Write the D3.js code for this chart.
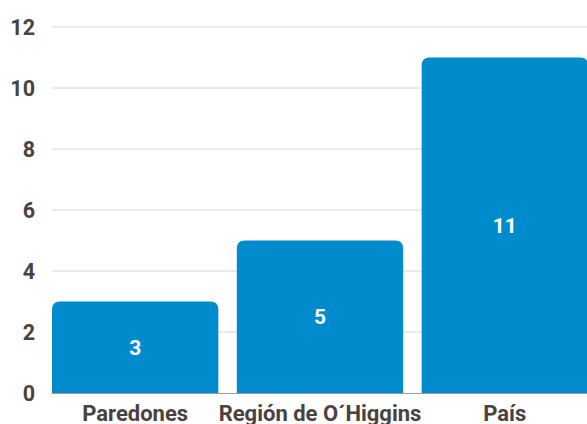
<!DOCTYPE html>
<html>
<head>
<meta charset="utf-8">
<script src="https://cdn.jsdelivr.net/npm/d3@7"></script>
<style>
  body { margin: 0; background: #fff; }
  text { font-family: Roboto, sans-serif; font-weight: 700; }
</style>
</head>
<body>
<div id="chart"><svg width="587" height="424"></svg></div>
<script>
const categories = ["Paredones", "Región de O´Higgins", "País"];
const values = [3, 5, 11];
const yTicks = [0, 2, 4, 6, 8, 10, 12];

const width = 587, height = 424;
const margin = {top: 27, right: -1, bottom: 31, left: 52};
const textColor = "#4a4242";
const barColor = "#008bcc";

const svg = d3.select("#chart").select("svg");

const x = d3.scaleBand()
    .domain(categories)
    .range([margin.left, width - margin.right])
    .paddingInner(0.1)
    .paddingOuter(0);

const y = d3.scaleLinear()
    .domain([0, 12])
    .range([height - margin.bottom, margin.top]);

// gridlines
svg.append("g")
    .selectAll("line")
    .data(yTicks.filter(d => d > 0))
    .enter()
    .append("line")
    .attr("x1", margin.left)
    .attr("x2", width)
    .attr("y1", d => y(d))
    .attr("y2", d => y(d))
    .attr("stroke", "#d6d6d6")
    .attr("stroke-width", 1);

// y labels
svg.append("g")
    .selectAll("text")
    .data(yTicks)
    .enter()
    .append("text")
    .attr("x", 35)
    .attr("y", d => y(d))
    .attr("dy", "0.35em")
    .attr("text-anchor", "end")
    .attr("font-size", 21.5)
    .attr("fill", textColor)
    .text(d => d);

// bars with rounded top corners
const r = 8;
const barPath = (d, i) => {
    const x0 = x(categories[i]), x1 = x0 + x.bandwidth();
    const y0 = y(0), y1 = y(d);
    return `M${x0},${y0}V${y1 + r}Q${x0},${y1} ${x0 + r},${y1}H${x1 - r}Q${x1},${y1} ${x1},${y1 + r}V${y0}Z`;
};

svg.append("g")
    .selectAll("path")
    .data(values)
    .enter()
    .append("path")
    .attr("d", barPath)
    .attr("fill", barColor);

// baseline
svg.append("line")
    .attr("x1", margin.left)
    .attr("x2", width)
    .attr("y1", y(0) + 0.5)
    .attr("y2", y(0) + 0.5)
    .attr("stroke", "#a09a9a")
    .attr("stroke-width", 1);

// value labels
svg.append("g")
    .selectAll("text")
    .data(values)
    .enter()
    .append("text")
    .attr("x", (d, i) => x(categories[i]) + x.bandwidth() / 2)
    .attr("y", d => (y(d) + y(0)) / 2)
    .attr("dy", "0.35em")
    .attr("text-anchor", "middle")
    .attr("font-size", 21)
    .attr("fill", "#fff")
    .text(d => d);

// category labels
svg.append("g")
    .selectAll("text")
    .data(categories)
    .enter()
    .append("text")
    .attr("x", d => x(d) + x.bandwidth() / 2)
    .attr("y", 421)
    .attr("text-anchor", "middle")
    .attr("font-size", 22)
    .attr("fill", textColor)
    .text(d => d);
</script>
</body>
</html>
